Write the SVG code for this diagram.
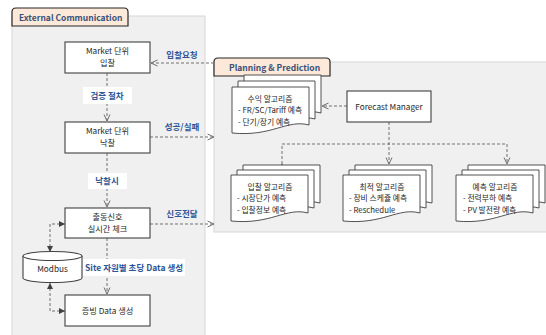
<svg xmlns="http://www.w3.org/2000/svg" width="546" height="335" viewBox="0 0 546 335">
<defs>
<style>
text{font-family:"Noto Sans CJK KR","Liberation Sans",sans-serif;font-size:8.2px;fill:#262626}
.panel{fill:#f0f0f0;stroke:#d6d6d6;stroke-width:1}
.tab{fill:#fde9d9;stroke:#262626;stroke-width:1.2}
.tabt{font-weight:bold;fill:#3a5078;font-size:8.5px}
.box{fill:#fff;stroke:#404040;stroke-width:1.1}
.lbl{font-weight:bold;fill:#2f5597;font-size:8.5px}
.lblbg{fill:#fff}
.c{fill:none;stroke:#707070;stroke-width:1;stroke-dasharray:3,2}
.doc{fill:#fff;stroke:#404040;stroke-width:0.9}
.dt{font-size:7.8px}
.mid{text-anchor:middle}
</style>
<marker id="ah" viewBox="0 0 8 8" refX="7.5" refY="4" markerWidth="8" markerHeight="8" orient="auto" markerUnits="userSpaceOnUse">
<path d="M1,1 L7.5,4 L1,7" fill="none" stroke="#707070" stroke-width="1"/>
</marker>
<marker id="fh" viewBox="0 0 6 6" refX="6" refY="3" markerWidth="6" markerHeight="6" orient="auto-start-reverse" markerUnits="userSpaceOnUse">
<path d="M0,0 L6,3 L0,6 Z" fill="#404040"/>
</marker>
<path id="docshape" d="M0,0 H77 V38 C55,32 40,50 0,46 Z"/>
</defs>

<g id="panel-external">
<rect class="panel" x="12" y="16" width="193" height="325"/>
<path class="tab" d="M12,26 V12 Q12,8 16,8 H124 Q128,8 128,12 V26 Z"/>
<text class="tabt" x="19" y="20.5">External Communication</text>
</g>

<g id="panel-planning">
<rect class="panel" x="214" y="62" width="336" height="170"/>
<path class="tab" d="M214,76 V62 Q214,58 218,58 H326 Q330,58 330,62 V76 Z"/>
<text class="tabt" x="229" y="70.5">Planning &amp; Prediction</text>
</g>

<g id="connectors">
<path class="c" d="M214,63 H151" marker-end="url(#ah)"/>
<path class="c" d="M107,73 V121" marker-end="url(#ah)"/>
<path class="c" d="M150,137 H214" marker-end="url(#ah)"/>
<path class="c" d="M107,153 V207" marker-end="url(#ah)"/>
<path class="c" d="M150,224 H214" marker-end="url(#ah)"/>
<path class="c" d="M107,238 V294" marker-end="url(#ah)"/>
<path class="c" d="M50,252 V224 H65" marker-start="url(#fh)" marker-end="url(#fh)"/>
<path class="c" d="M50,283 V311 H65" marker-start="url(#fh)" marker-end="url(#fh)"/>
<path class="c" d="M347,106 H322" marker-end="url(#ah)"/>
<path class="c" d="M389,122 V164" marker-end="url(#ah)"/>
<path class="c" d="M282,164 V144 H507 V164" marker-start="url(#ah)" marker-end="url(#ah)"/>
</g>

<g id="label-bidreq"><text class="lbl mid" x="182" y="58">입찰요청</text></g>
<g id="label-verify"><rect class="lblbg" x="83" y="87" width="49" height="17"/><text class="lbl mid" x="107" y="99">검증 절차</text></g>
<g id="label-result"><text class="lbl mid" x="182" y="130">성공/실패</text></g>
<g id="label-award"><rect class="lblbg" x="88" y="173" width="39" height="16"/><text class="lbl mid" x="107" y="184">낙찰시</text></g>
<g id="label-signal"><text class="lbl mid" x="182" y="217">신호전달</text></g>
<g id="label-site"><rect class="lblbg" x="83" y="259" width="102" height="17"/><text class="lbl" x="85" y="270.5">Site 자원별 초당 Data 생성</text></g>

<g id="node-bid">
<rect class="box" x="65" y="42" width="85" height="31"/>
<text class="mid" x="107.5" y="54">Market 단위</text>
<text class="mid" x="107.5" y="66">입찰</text>
</g>
<g id="node-award">
<rect class="box" x="65" y="122" width="85" height="31"/>
<text class="mid" x="107.5" y="134">Market 단위</text>
<text class="mid" x="107.5" y="146">낙찰</text>
</g>
<g id="node-dispatch">
<rect class="box" x="65" y="208" width="85" height="30"/>
<text class="mid" x="107.5" y="219.5">출동신호</text>
<text class="mid" x="107.5" y="231.5">실시간 체크</text>
</g>
<g id="node-evidence">
<rect class="box" x="65" y="295" width="85" height="31"/>
<text class="mid" x="107.5" y="313.5">증빙 Data 생성</text>
</g>
<g id="node-modbus">
<path class="box" d="M23,256 V278 A29.5,4.5 0 0 0 82,278 V256"/>
<ellipse class="box" cx="52.5" cy="256" rx="29.5" ry="4.5"/>
<text class="mid" x="52.5" y="271.5">Modbus</text>
</g>
<g id="node-forecast-manager">
<rect class="box" x="347" y="91" width="84" height="31"/>
<text class="mid" x="389" y="109.5">Forecast Manager</text>
</g>

<g id="node-revenue">
<use href="#docshape" class="doc" x="244" y="75"/>
<use href="#docshape" class="doc" x="238" y="81"/>
<use href="#docshape" class="doc" x="232" y="87"/>
<text class="dt mid" x="270" y="101.5">수익 알고리즘</text>
<text class="dt" x="238" y="113">- FR/SC/Tariff 예측</text>
<text class="dt" x="238" y="124.5">- 단기/장기 예측</text>
</g>
<g id="node-bidding-algo">
<use href="#docshape" class="doc" x="243" y="165"/>
<use href="#docshape" class="doc" x="237" y="170"/>
<use href="#docshape" class="doc" x="231" y="175"/>
<text class="dt mid" x="270" y="189.5">입찰 알고리즘</text>
<text class="dt" x="237" y="201">- 시장단가 예측</text>
<text class="dt" x="237" y="212.5">- 입찰정보 예측</text>
</g>
<g id="node-optimal-algo">
<use href="#docshape" class="doc" x="355" y="165"/>
<use href="#docshape" class="doc" x="349" y="170"/>
<use href="#docshape" class="doc" x="343" y="175"/>
<text class="dt mid" x="382" y="189.5">최적 알고리즘</text>
<text class="dt" x="349" y="201">- 장비 스케쥴 예측</text>
<text class="dt" x="349" y="212.5">- Reschedule</text>
</g>
<g id="node-predict-algo">
<use href="#docshape" class="doc" x="468" y="165"/>
<use href="#docshape" class="doc" x="462" y="170"/>
<use href="#docshape" class="doc" x="456" y="175"/>
<text class="dt mid" x="495" y="189.5">예측 알고리즘</text>
<text class="dt" x="463" y="201">- 전력부하 예측</text>
<text class="dt" x="463" y="212.5">- PV 발전량 예측</text>
</g>
</svg>
